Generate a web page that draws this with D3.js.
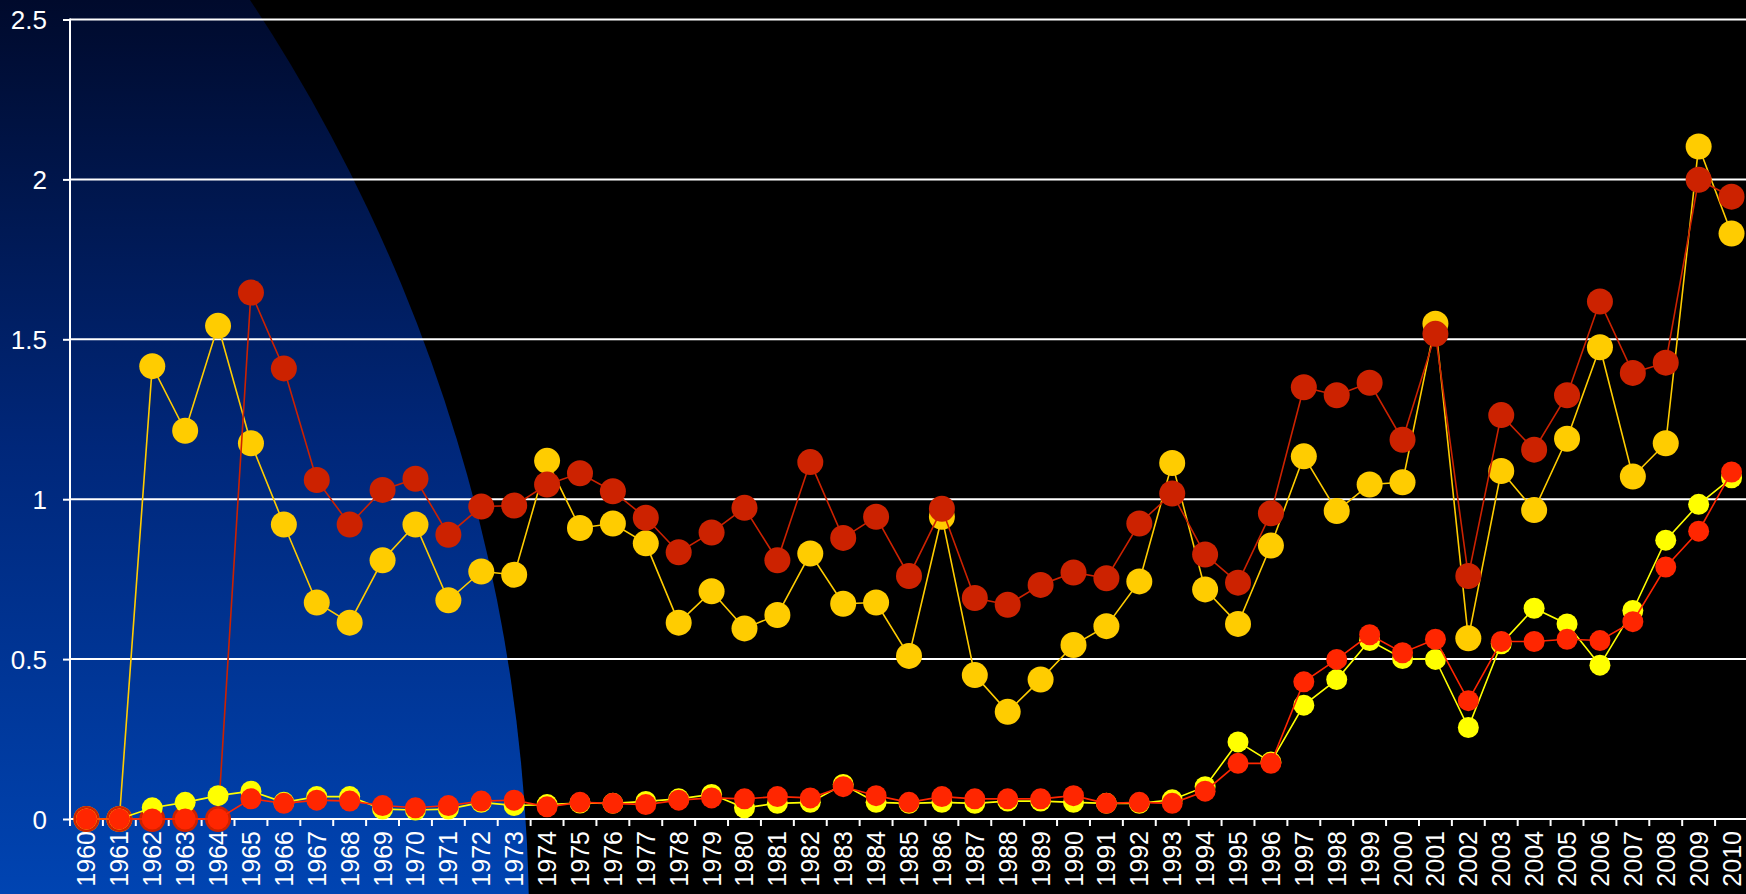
<!DOCTYPE html>
<html>
<head>
<meta charset="utf-8">
<script src="https://cdn.jsdelivr.net/npm/d3@7"></script>
<style>
  html, body { margin: 0; padding: 0; background: #000; overflow: hidden; }
  svg { display: block; }
</style>
</head>
<body>
<svg id="chart"></svg>
<script>
var years = d3.range(1960, 2011);
var y_ticks = [0, 0.5, 1, 1.5, 2, 2.5];

// big orange markers
var series_a = [0, 0, 1.416, 1.214, 1.542, 1.175, 0.921, 0.677, 0.614, 0.809,
  0.921, 0.684, 0.774, 0.764, 1.12, 0.91, 0.924, 0.862, 0.614, 0.712,
  0.596, 0.638, 0.83, 0.673, 0.677, 0.51, 0.945, 0.45, 0.335, 0.436,
  0.544, 0.603, 0.743, 1.113, 0.718, 0.61, 0.855, 1.134, 0.963, 1.046,
  1.053, 1.549, 0.565, 1.088, 0.966, 1.189, 1.475, 1.071, 1.175, 2.103, 1.831];
// big dark red markers
var series_b = [0, 0, 0, 0, 0, 1.646, 1.409, 1.06, 0.921, 1.029,
  1.064, 0.889, 0.977, 0.98, 1.046, 1.081, 1.025, 0.942, 0.834, 0.896,
  0.973, 0.809, 1.116, 0.879, 0.945, 0.76, 0.97, 0.691, 0.67, 0.732,
  0.771, 0.753, 0.924, 1.018, 0.827, 0.739, 0.956, 1.35, 1.325, 1.364,
  1.186, 1.517, 0.76, 1.263, 1.155, 1.325, 1.618, 1.395, 1.427, 1.999, 1.946];
// small yellow markers
var series_c = [0, 0, 0.035, 0.052, 0.073, 0.087, 0.052, 0.07, 0.07, 0.031,
  0.028, 0.031, 0.052, 0.042, 0.045, 0.05, 0.049, 0.055, 0.063, 0.077,
  0.035, 0.049, 0.052, 0.108, 0.052, 0.049, 0.052, 0.049, 0.056, 0.056,
  0.052, 0.049, 0.049, 0.06, 0.101, 0.241, 0.178, 0.356, 0.436, 0.558,
  0.502, 0.499, 0.286, 0.548, 0.659, 0.61, 0.481, 0.652, 0.872, 0.984, 1.067];
// small red markers
var series_d = [0, 0, 0, 0, 0, 0.063, 0.049, 0.059, 0.056, 0.042,
  0.035, 0.042, 0.056, 0.059, 0.038, 0.052, 0.049, 0.045, 0.059, 0.066,
  0.063, 0.07, 0.066, 0.101, 0.073, 0.052, 0.07, 0.063, 0.063, 0.063,
  0.073, 0.049, 0.052, 0.049, 0.087, 0.174, 0.174, 0.429, 0.499, 0.576,
  0.52, 0.562, 0.37, 0.555, 0.555, 0.562, 0.558, 0.617, 0.788, 0.9, 1.085];

var W = 1746, H = 894;
var svg = d3.select("svg#chart").attr("width", W).attr("height", H);

svg.append("rect").attr("width", W).attr("height", H).attr("fill", "#000");

// blue backdrop (part of a big circle, fading from navy to blue)
var defs = svg.append("defs");
var grad = defs.append("linearGradient").attr("id", "blue")
  .attr("gradientUnits", "userSpaceOnUse")
  .attr("x1", 0).attr("y1", 0).attr("x2", 0).attr("y2", H);
grad.append("stop").attr("offset", 0).attr("stop-color", "#000a2c");
grad.append("stop").attr("offset", 0.5).attr("stop-color", "#00277a");
grad.append("stop").attr("offset", 1).attr("stop-color", "#0044b2");

svg.append("circle")
  .attr("cx", -1147).attr("cy", 926).attr("r", 1676)
  .attr("fill", "url(#blue)");

var x_left = 70, x_right = 1748;
var y_top = 19.5, y_bottom = 819;

var x = d3.scaleBand().domain(years).range([x_left, x_right]).padding(0);
var y = d3.scaleLinear().domain([0, 2.5]).range([y_bottom, y_top]);
var bw = x.bandwidth();
function cx(d, i){ return x(years[i]) + bw / 2; }

// AXES
var g = svg.append("g");

var yAxis = d3.axisLeft(y).tickValues(y_ticks)
  .tickSize(7)
  .tickFormat(function(d){ return d; });

g.append("g")
  .attr("transform", "translate(" + x_left + ",0)")
  .call(function(g){
    g.call(yAxis);
    g.select(".domain").remove();
    g.selectAll(".tick line").attr("stroke", "#fff").attr("stroke-width", 2);
    g.selectAll(".tick text").attr("x", -23).attr("dy", "0.35em")
      .attr("fill", "#fff")
      .style("font-family", "'Liberation Sans', Arial, sans-serif")
      .style("font-size", "26px");
  });

// horizontal grid
g.append("g").selectAll("line").data(y_ticks).enter().append("line")
  .attr("x1", x_left).attr("x2", W)
  .attr("y1", function(d){ return y(d); })
  .attr("y2", function(d){ return y(d); })
  .attr("stroke", "#fff").attr("stroke-width", 2);

// vertical axis line
g.append("line")
  .attr("x1", x_left).attr("x2", x_left)
  .attr("y1", y_top - 1).attr("y2", y_bottom + 1)
  .attr("stroke", "#fff").attr("stroke-width", 2);

// x ticks between categories
var bounds = years.map(function(d){ return x(d); }).concat([x_right]);
g.append("g").selectAll("line").data(bounds).enter().append("line")
  .attr("x1", function(d){ return d; }).attr("x2", function(d){ return d; })
  .attr("y1", y_bottom).attr("y2", y_bottom + 7)
  .attr("stroke", "#fff").attr("stroke-width", 2);

// x labels, rotated
g.append("g").selectAll("text").data(years).enter().append("text")
  .attr("transform", function(d){
    return "translate(" + (x(d) + bw / 2) + "," + (y_bottom + 12) + ") rotate(-90)";
  })
  .attr("text-anchor", "end")
  .attr("dy", "0.36em")
  .attr("fill", "#fff")
  .style("font-family", "'Liberation Sans', Arial, sans-serif")
  .style("font-size", "25px")
  .text(function(d){ return d; });

// SERIES
var series = [
  {vals: series_a, color: "#ffcc00", r: 13},
  {vals: series_b, color: "#cc2200", r: 13},
  {vals: series_c, color: "#ffff00", r: 10.5},
  {vals: series_d, color: "#ff2600", r: 10.5}
];

var line = d3.line()
  .x(function(d, i){ return cx(d, i); })
  .y(function(d){ return y(d); });

series.forEach(function(s){
  var sg = svg.append("g");
  sg.append("path").datum(s.vals)
    .attr("d", line)
    .attr("fill", "none")
    .attr("stroke", s.color)
    .attr("stroke-width", 1.6);
  sg.selectAll("circle").data(s.vals).enter().append("circle")
    .attr("cx", cx)
    .attr("cy", function(d){ return y(d); })
    .attr("r", s.r)
    .attr("fill", s.color);
});
</script>
</body>
</html>
